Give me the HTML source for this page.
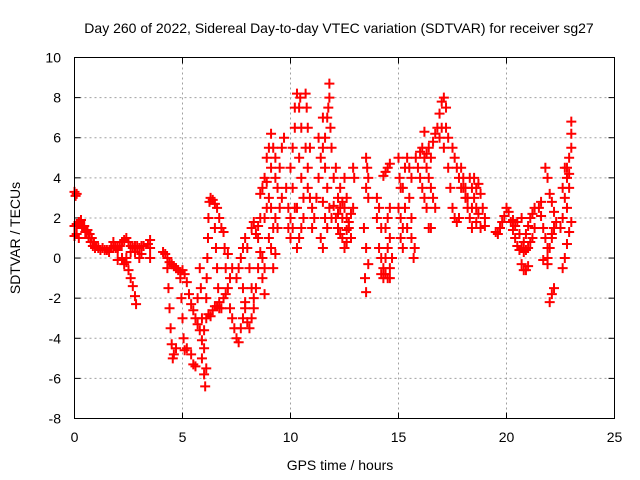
<!DOCTYPE html>
<html><head><meta charset="utf-8"><style>
html,body{margin:0;padding:0;background:#fff}
svg{display:block;font-family:"Liberation Sans",sans-serif}
</style></head><body>
<svg id="chart" width="640" height="480" viewBox="0 0 640 480" xmlns="http://www.w3.org/2000/svg">
<rect width="640" height="480" fill="#fff"/>
<text x="339" y="33" font-size="14" text-anchor="middle">Day 260 of 2022, Sidereal Day-to-day VTEC variation (SDTVAR) for receiver sg27</text>
<text x="340" y="470" font-size="14" text-anchor="middle">GPS time / hours</text>
<text x="20" y="238" font-size="14" text-anchor="middle" transform="rotate(-90 20 238)">SDTVAR / TECUs</text>
<g id="grid"></g>
<g id="ticks"></g>
<g id="pts" stroke="#f00" stroke-width="2"></g>
<rect x="74.5" y="57.5" width="540" height="361" fill="none" stroke="#000" stroke-width="1"/>
</svg>
<script>
const xTicks=[0,5,10,15,20,25];
const yTicks=[-8,-6,-4,-2,0,2,4,6,8,10];
const xTickLabels=["0","5","10","15","20","25"];
const yTickLabels=["-8","-6","-4","-2","0","2","4","6","8","10"];
const pointPairs=[
0,3.3,0.05,3.1,0.1,3.2,0,1.6,0.1,1.7,0.2,1.8,0.3,1.9,0.4,1.5,0.5,1.3,0.6,1.4,0.7,1.2,0.8,1.0,0.9,0.8,1.0,0.6,1.1,0.5,1.2,0.4,1.3,0.5,1.4,0.4,1.5,0.4,1.6,0.3,1.7,0.5,1.8,0.6,1.9,0.5,2.0,0.4,2.1,0.6,2.2,0.8,2.3,0.9,2.4,1.0,2.5,0.8,2.6,0.6,2.7,0.5,2.8,0.6,2.9,0.6,3.0,0.5,3.1,0.6,3.2,0.6,3.4,0.7,3.5,0.9,
0,1.1,0.1,1.2,0.2,1.0,0.35,1.5,0.45,1.6,0.55,1.3,0.65,1.0,0.75,0.8,0.85,0.6,0.95,0.5,
1.8,0.8,2.0,0.5,2.2,0,2.3,-0.3,2.4,-0.2,2.5,-0.6,2.6,-1.0,2.7,-1.4,2.8,-1.9,2.85,-2.3,
2.0,-0.1,2.2,-0.1,2.4,0,2.6,0.3,2.8,0.3,3.0,0,3.1,0.2,3.5,0.5,3.5,0,
4.1,0.3,4.2,0.2,4.3,0.0,4.4,-0.2,4.5,-0.3,4.6,-0.4,4.7,-0.5,4.8,-0.6,4.9,-0.7,5.0,-0.6,5.1,-0.8,5.2,-1.2,5.3,-1.8,5.4,-2.3,5.5,-2.6,5.6,-3.0,5.7,-3.3,5.8,-3.6,5.9,-4.1,6.0,-3.6,6.1,-3.0,6.2,-2.8,6.3,-2.9,6.4,-2.6,6.5,-2.4,6.6,-2.4,6.7,-2.2,6.8,-2.5,6.9,-2.0,7.0,-1.8,
4.3,-0.5,4.35,-1.5,4.4,-2.5,4.45,-3.5,4.5,-4.3,4.55,-5.0,4.6,-4.8,4.7,-4.5,4.9,-1,4.95,-2,5.0,-3,5.05,-4,5.1,-4.6,5.2,-4.5,5.4,-4.8,5.5,-5.3,5.6,-5.4,5.9,-5,6.0,-5.8,6.05,-6.4,6.1,-5.5,6.0,-4.5,
6.1,-2,6.12,-1,6.15,0,6.18,1,6.2,2,6.25,2.8,6.3,3.0,6.4,2.9,6.5,2.7,6.5,1.5,6.55,0.5,6.6,-0.5,6.65,-1.5,6.7,-2.5,
6.6,2.5,6.7,2.0,6.8,1.5,6.9,1.3,6.95,0.5,7.0,-0.5,7.1,-1.5,7.2,-2.5,7.3,-3,7.4,-3.5,7.5,-4.0,7.6,-4.2,7.7,-3.5,7.8,-3,7.9,-2.5,
5.7,-2,5.8,-0.5,5.85,-1.5,5.9,-3,7.1,0.2,7.2,-1,7.3,-0.5,
7.5,-1,7.6,-0.5,7.7,0,7.8,0.5,7.9,1.0,8.0,0.5,8.1,-0.5,8.2,-1.5,8.3,-2,8.0,-3.2,8.1,-3.5,8.2,-3,8.3,-2.5,8.4,-1.5,8.5,-0.5,7.8,-1.5,7.9,-2.2,8.2,1.5,8.3,1.8,8.4,1.2,8.5,1.0,8.6,0.3,8.7,0,8.8,-0.5,8.5,1.6,8.6,2.0,
8.6,3.2,8.7,3.5,8.8,4.0,8.9,3.8,8.9,5,9.0,5.5,9.1,6.2,9.2,5.5,9.3,5,9.1,4.5,8.8,2,8.9,2.5,9.0,3,9.1,2.5,9.2,1.5,9.3,2,9.0,1.0,9.1,0.5,8.7,-1,8.8,-1.8,9.2,-0.5,9.3,0.2,9.4,1.5,9.5,2.5,9.6,3.0,9.5,4.5,9.6,5.5,9.7,6.0,9.4,3.5,9.3,4.0,
9.8,3.5,9.9,2.5,10.0,2,9.9,1.5,10.0,1,10.1,1.5,10.2,2.5,10.1,3.5,10.0,4.5,10.1,5.5,10.2,6.5,10.2,7.5,10.3,8.2,10.4,7.5,10.45,8,10.5,6.5,10.4,5,10.5,4,10.6,3,10.6,2,10.5,1.5,10.4,1,10.3,0.5,10.3,2.5,10.7,5.5,10.8,4.5,10.8,3.5,10.7,8.2,10.75,7.5,10.8,6.5,10.9,5.5,10.9,3,11.0,2.5,11.0,1.5,11.1,2,
11.2,3,11.3,4,11.4,5,11.3,6,11.5,5.5,11.6,6,11.7,7,11.8,8,11.8,8.7,11.75,7.5,11.85,6.5,11.9,5.5,11.5,7,11.6,4.5,11.7,3.5,11.8,2.5,11.9,2,11.5,2.8,11.6,2.0,11.7,1.5,11.4,1.0,11.5,0.5,12.0,4,12.1,4.5,12.2,3,12.1,2,12.2,1.5,12.3,2.5,12.4,2,12.5,2.5,12.6,2,12.7,1.5,12.6,3,12.3,3.5,12.5,4,12.4,1,12.5,0.5,12.7,1.8,12.8,2.2,12.9,2.5,12.9,4.5,12.95,4.0,12.3,1.2,12.6,0.8,12.8,1,12.2,2.2,12.4,2.8,12.6,1.4,12.0,2.6,
13.5,5,13.55,4.5,13.6,4,13.5,3.5,13.6,3,13.4,1.5,13.5,0.5,13.45,-1,13.5,-1.7,13.6,-0.3,
14.0,2,14.1,2.5,14.0,3,14.2,1.5,14.1,0.5,14.2,0,14.3,-0.5,14.3,-1,14.4,0,14.5,0.5,14.4,1.5,14.5,2,14.6,2.5,14.6,1,14.6,-0.5,14.5,-1,14.7,0,14.4,-0.8,14.6,-1.0,14.2,-0.8,
14.3,4.1,14.4,4.3,14.5,4.5,14.6,4.7,
15.0,5,15.05,4,15.1,3.5,15.0,2.5,15.1,2,15.2,1.5,15.1,1.0,15.2,0.5,15.3,2.5,15.2,3.5,15.3,4.5,15.4,5,15.5,4.5,15.6,4,15.5,3,15.6,2,15.6,1,15.7,0,15.75,0.5,15.4,1.5,
15.8,5,15.9,4.5,16.0,4,16.1,3.5,16.2,3,16.3,2.5,16.4,1.5,16.5,1.5,16.0,5.3,16.1,5.5,16.2,5,16.3,4.5,16.4,4,16.5,3.5,16.6,3,16.7,2.5,16.6,5.8,16.7,6.2,16.8,6.5,16.9,7.2,17.0,7.8,17.1,8,17.2,7.5,17.2,6.5,17.3,6,17.0,6.5,16.9,6,17.1,5.5,17.3,4.5,17.4,3.5,17.5,2.5,17.6,2,17.7,1.8,17.8,2,17.5,5.5,17.6,5,17.7,4.5,17.8,4,17.9,3.5,16.2,6.3,16.4,5.5,16.5,5,16.3,5.2,
17.9,4.5,18.0,4,18.1,3.5,18.2,3,18.0,3.5,18.1,3,18.2,2.5,18.3,2,18.4,1.5,18.3,4,18.4,3.5,18.5,3,18.6,2.5,18.7,2.2,18.5,4,18.6,3.5,18.7,3.7,18.8,3.2,18.9,2.5,19.0,2,18.8,1.5,19.0,1.6,18.4,2.5,18.6,1.8,
19.5,1.3,19.6,1.2,19.7,1.5,19.8,1.8,19.9,2.1,20.0,2.5,20.1,2.3,20.2,1.8,20.3,1.4,20.4,1.0,20.5,0.6,20.6,0.4,20.7,0.5,20.8,0.8,20.9,1.2,21.0,1.6,21.1,2.0,21.2,2.2,21.3,2.5,21.2,1.0,21.3,1.5,21.0,0.5,20.8,0.3,20.5,1.8,20.6,1.2,20.4,1.6,21.1,0.8,20.3,1.9,20.9,0.4,20.7,2.0,20.7,-0.3,20.8,-0.6,20.9,-0.6,21.0,-0.4,
21.5,2.5,21.6,2.1,21.7,1.5,21.8,1.0,21.9,0.5,21.7,-0.1,21.6,2.8,21.8,4.5,21.9,4.0,22.0,3.2,22.1,2.8,22.2,2.3,22.3,1.8,22.2,1.5,22.1,1.0,22.0,0.5,21.9,0.0,21.9,-0.3,22.0,-2.2,22.1,-1.8,22.2,-1.5,22.1,1.2,
22.5,1.5,22.6,2,22.7,3,22.8,4,22.6,-0.5,22.7,0,22.8,0.7,22.9,1.3,23.0,1.8,22.8,4.5,22.9,5,23.0,5.5,23.0,6.2,23.0,6.8,22.9,4.2,22.7,4.5,22.6,3.5,22.8,2.5,22.9,3.5
];
const hours=pointPairs.filter((v,i)=>i%2===0);
const sdtvar=pointPairs.filter((v,i)=>i%2===1);

const L=74.5,R=614.5,T=57.5,B=418.5;
const xs=t=>L+(t-0)/(25-0)*(R-L);
const ys=v=>B-(v+8)/(10+8)*(B-T);
const NS="http://www.w3.org/2000/svg";
function mk(tag,attrs,parent){const e=document.createElementNS(NS,tag);for(const k in attrs)e.setAttribute(k,attrs[k]);parent.appendChild(e);return e;}
const grid=document.getElementById('grid'),ticks=document.getElementById('ticks'),pts=document.getElementById('pts');
xTicks.forEach((t,i)=>{
  const x=xs(t);
  if(i>0&&i<xTicks.length-1){const g=mk('line',{x1:x,x2:x,y1:T,y2:B,stroke:'#a0a0a0','stroke-dasharray':'2,3'},grid);
  
  }
  mk('line',{x1:x,x2:x,y1:B,y2:B-6,stroke:'#000'},ticks);
  mk('line',{x1:x,x2:x,y1:T,y2:T+6,stroke:'#000'},ticks);
  const lb=mk('text',{x:x,y:442,'font-size':14,'text-anchor':'middle'},ticks);
  lb.textContent=xTickLabels[i];
  
  
});
yTicks.forEach((v,i)=>{
  const y=ys(v);
  if(i>0&&i<yTicks.length-1){const g=mk('line',{x1:L,x2:R,y1:y,y2:y,stroke:'#a0a0a0','stroke-dasharray':'2,3'},grid);
  
  }
  mk('line',{x1:L,x2:L+6,y1:y,y2:y,stroke:'#000'},ticks);
  mk('line',{x1:R,x2:R-6,y1:y,y2:y,stroke:'#000'},ticks);
  const lb=mk('text',{x:61,y:y+5,'font-size':14,'text-anchor':'end'},ticks);
  lb.textContent=yTickLabels[i];
  
  
});
hours.forEach((t,i)=>{
  const x=xs(t),y=ys(sdtvar[i]);
  const p=mk('path',{d:`M${x-5} ${y}H${x+5}M${x} ${y-5}V${y+5}`},pts);
  
  
});
</script>
</body></html>
